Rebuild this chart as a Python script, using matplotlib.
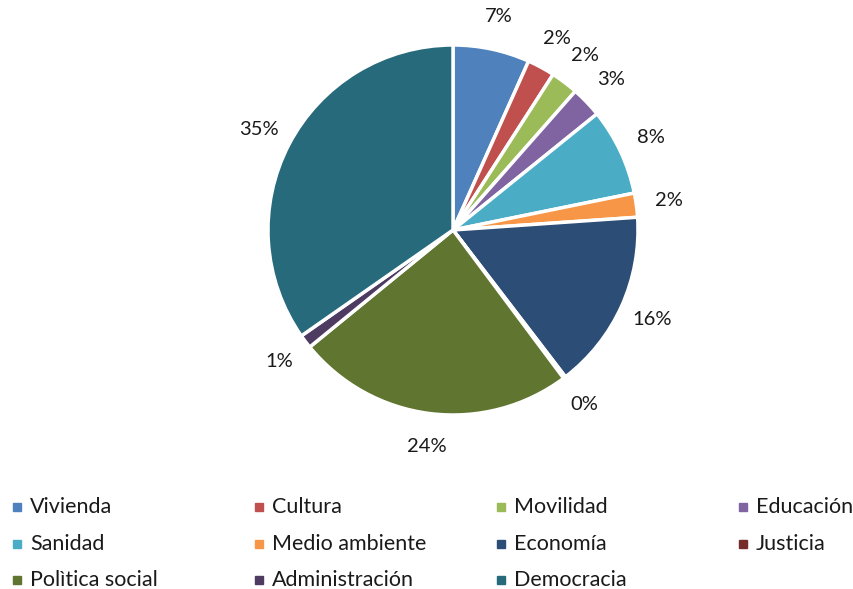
import matplotlib
matplotlib.use("Agg")
from matplotlib import pyplot as plt
from matplotlib.patches import Rectangle

# data
categorias = ['Vivienda', 'Cultura', 'Movilidad', 'Educación', 'Sanidad',
              'Medio ambiente', 'Economía', 'Justicia', 'Polìtica social',
              'Administración', 'Democracia']
valores = [6.7, 2.4, 2.4, 2.7, 7.6, 2.1, 15.7, 0.2, 24.3, 1.2, 34.7]
colores = ['#4F81BD', '#C0504D', '#9BBB59', '#8064A2', '#4BACC6', '#F79646',
           '#2C4D75', '#772C2A', '#5F7530', '#4D3B62', '#276A7C']

plt.rcParams['font.family'] = ['Lato', 'DejaVu Sans']

W, H = 854, 589
fig = plt.figure(figsize=(W / 100, H / 100), dpi=100)

cx, cy, r = 453, 230, 185
ax = fig.add_axes([(cx - r) / W, (H - cy - r) / H, 2 * r / W, 2 * r / H])

total = sum(valores)
wedges, textos = ax.pie(valores, colors=colores, startangle=90, counterclock=False,
                        labels=['%d%%' % round(v * 100 / total) for v in valores],
                        labeldistance=1.18,
                        wedgeprops=dict(edgecolor='white', linewidth=2.5),
                        textprops=dict(fontsize=14.5, color='#1a1a1a'))
for t in textos:
    t.set_ha('center')
    t.set_va('center')
for w in wedges:
    w.set_clip_on(False)
ax.set_xlim(-1, 1)
ax.set_ylim(-1, 1)
ax.set_aspect('equal')
ax.axis('off')

# legend, row-wise like the original
x0s = [13, 255, 497, 739]
y0s = [507, 544, 580]
for i, (nombre, c) in enumerate(zip(categorias, colores)):
    fila, col = divmod(i, 4)
    x, y = x0s[col], y0s[fila]
    fig.add_artist(Rectangle((x / W, (H - y - 4) / H), 8 / W, 8 / H,
                             transform=fig.transFigure, color=c))
    fig.text((x + 17) / W, (H - y) / H, nombre, fontsize=15.5, color='#1a1a1a',
             va='center', ha='left')

fig.savefig('out.png', dpi=100)
